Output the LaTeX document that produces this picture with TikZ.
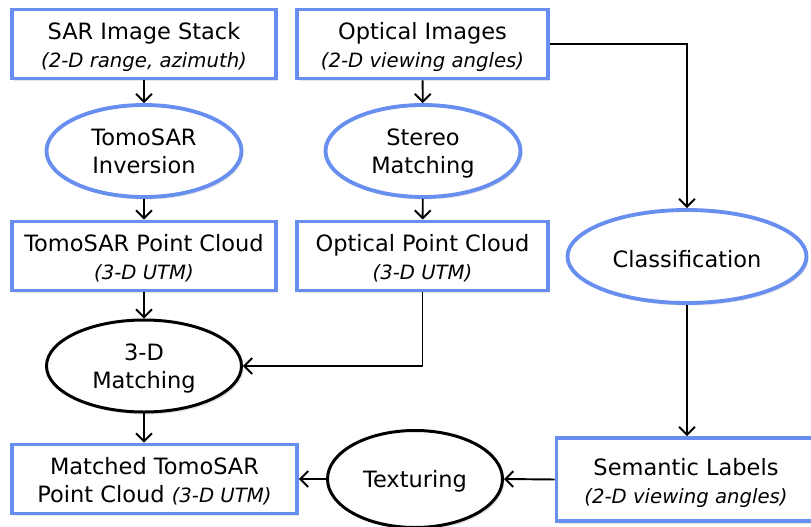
\documentclass[tikz,border=0pt]{standalone}
\usepackage{fontspec}
\setmainfont{DejaVu Sans}
\usepackage{tikz}
\usetikzlibrary{shapes}
\usetikzlibrary{shadows}
\usetikzlibrary{arrows.meta}
\usepackage{xcolor}
\definecolor{boxblue}{RGB}{104,142,240}

\tikzset{
  databox/.style={rectangle, draw=boxblue, line width=2.2pt, fill=white,
    inner sep=0pt, minimum height=1.38cm,
    drop shadow={opacity=.2, shadow xshift=.04cm, shadow yshift=-.05cm},
    font=\fontsize{12.8}{16}\selectfont},
  procblue/.style={ellipse, draw=boxblue, line width=2.2pt, fill=white,
    inner sep=0pt, minimum width=3.9cm, minimum height=1.84cm,
    drop shadow={opacity=.2, shadow xshift=.04cm, shadow yshift=-.05cm},
    font=\fontsize{12.8}{16}\selectfont},
  procblack/.style={procblue, draw=black, line width=1.7pt},
  flow/.style={-{Straight Barb[length=4.5pt,width=9pt]}, line width=1.1pt}
}
\newcommand{\subtxt}[1]{{\fontsize{11.2}{16}\selectfont\itshape #1}}
% two lines, set a little below the middle of the node
\newcommand{\twolines}[3][.08cm]{\raisebox{-#1}[\height][\depth]{\begin{tabular}{@{}c@{}}#2\\#3\end{tabular}}}
\newcommand{\oneline}[1]{\raisebox{-.05cm}[\height][\depth]{#1}}

\begin{document}
\begin{tikzpicture}
\useasboundingbox (0,0) rectangle (16.22,-10.54);
% inputs
\node[databox, minimum width=5.28cm] (sar) at (2.88,-.88) {\twolines{SAR Image Stack}{\subtxt{(2-D range, azimuth)}}};
\node[databox, minimum width=5.02cm] (opt) at (8.45,-.88) {\twolines{Optical Images}{\subtxt{(2-D viewing angles)}}};
% processing
\node[procblue] (inv) at (2.88,-3.02) {\twolines[.06cm]{TomoSAR}{Inversion}};
\node[procblue] (stereo) at (8.46,-3.02) {\twolines[.06cm]{Stereo}{Matching}};
\node[procblue, minimum width=4.78cm, minimum height=1.86cm] (cls) at (13.74,-5.13) {\oneline{Classification}};
% point clouds
\node[databox, minimum width=5.28cm] (tpc) at (2.88,-5.12) {\twolines{TomoSAR Point Cloud}{\subtxt{(3-D UTM)}}};
\node[databox, minimum width=5.02cm] (opc) at (8.45,-5.12) {\twolines{Optical Point Cloud}{\subtxt{(3-D UTM)}}};
\node[procblack] (match) at (2.88,-7.32) {\twolines[.06cm]{3-D}{Matching}};
% outputs
\node[databox, minimum width=5.7cm] (mtpc) at (3.09,-9.58) {\twolines{Matched TomoSAR}{Point Cloud \subtxt{(3-D UTM)}}};
\node[procblack, minimum width=3.5cm, minimum height=1.94cm] (tex) at (8.3,-9.58) {\oneline{Texturing}};
\node[databox, minimum width=5.18cm, minimum height=1.66cm] (sem) at (13.72,-9.59) {\twolines{Semantic Labels}{\subtxt{(2-D viewing angles)}}};
% connectors
\draw[flow] (sar) -- (inv);
\draw[flow] (opt) -- (stereo);
\draw[flow] (inv) -- (tpc);
\draw[flow] (stereo) -- (opc);
\draw[flow] (tpc) -- (match);
\draw[flow] (opt.east) -| (cls.north);
\draw[flow] (opc.south) |- (match.east);
\draw[flow] (match.south) -- (match.south |- mtpc.north);
\draw[flow] (cls.south) -- (cls.south |- sem.north);
\draw[flow] (sem.west) -- (tex.east);
\draw[flow] (tex.west) -- (mtpc.east);
\end{tikzpicture}
\end{document}
